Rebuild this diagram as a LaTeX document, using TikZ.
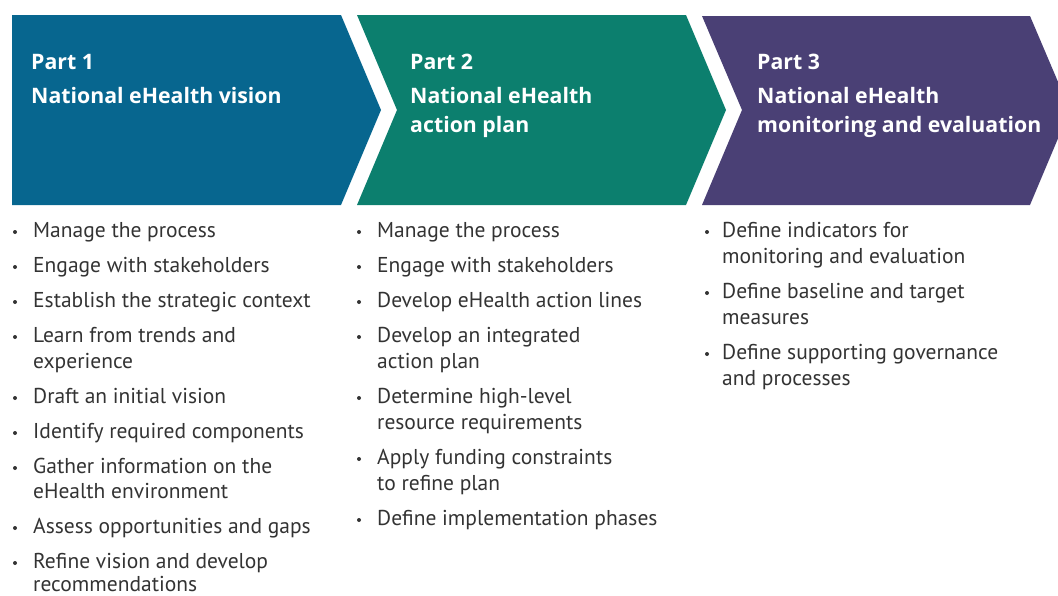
\documentclass[tikz,border=0pt]{standalone}
\usepackage{fontspec}
\setmainfont{PT Sans}
\newfontfamily\ttlfont{Open Sans}
\definecolor{pblue}{HTML}{07668F}
\definecolor{pteal}{HTML}{0C7F6E}
\definecolor{ppurple}{HTML}{4A4075}
\definecolor{txtgrey}{HTML}{333333}
\begin{document}
\begin{tikzpicture}[x=1pt,y=-1pt,
  ttl/.style={anchor=base west, inner sep=0pt, text=white, font=\ttlfont\bfseries\fontsize{21.3}{29}\selectfont},
  itm/.style={anchor=base west, inner sep=0pt, text=txtgrey, font=\fontsize{21.5}{26}\selectfont},
  bul/.style={circle, fill=txtgrey, inner sep=0pt, minimum size=4pt}]
\useasboundingbox (0,0) rectangle (1058,595);
\clip (0,0) rectangle (1058,595);
% chevrons
\fill[pblue] (12,15) -- (341,15) -- (381,110) -- (341,205) -- (12,205) -- cycle;
\fill[pteal] (357,15) -- (686,15) -- (726,110) -- (686,205) -- (357,205) -- (397,110) -- cycle;
\fill[ppurple] (702,16) -- (1030,16) -- (1070,110) -- (1030,205) -- (702,205) -- (742,110) -- cycle;
% titles
\node[ttl] (p1a) at (31,69) {Part 1};
\node[ttl] (p1b) at (31,103) {National eHealth vision};
\node[ttl] (p2a) at (410,69) {Part 2};
\node[ttl] (p2b) at (410,103) {National eHealth};
\node[ttl] (p2c) at (410,132) {action plan};
\node[ttl] (p3a) at (757,69) {Part 3};
\node[ttl] (p3b) at (757,103) {National eHealth};
\node[ttl] (p3c) at (757,132) {monitoring and evaluation};
% column 1
\node[bul] (b11) at (15,232) {}; \node[itm] (t11) at (33,237) {Manage the process};
\node[bul] (b12) at (15,267) {}; \node[itm] (t12) at (33,272) {Engage with stakeholders};
\node[bul] (b13) at (15,302) {}; \node[itm] (t13) at (33,307) {Establish the strategic context};
\node[bul] (b14) at (15,337) {}; \node[itm] (t14) at (33,342) {Learn from trends and};
\node[itm] (t14b) at (33,368) {experience};
\node[bul] (b15) at (15,398) {}; \node[itm] (t15) at (33,403) {Draft an initial vision};
\node[bul] (b16) at (15,433) {}; \node[itm] (t16) at (33,438) {Identify required components};
\node[bul] (b17) at (15,468) {}; \node[itm] (t17) at (33,473) {Gather information on the};
\node[itm] (t17b) at (33,498) {eHealth environment};
\node[bul] (b18) at (15,528) {}; \node[itm] (t18) at (33,533) {Assess opportunities and gaps};
\node[bul] (b19) at (15,563) {}; \node[itm] (t19) at (33,568) {Refine vision and develop};
\node[itm] (t19b) at (33,591) {recommendations};
% column 2
\node[bul] (b21) at (359,232) {}; \node[itm] (t21) at (377,237) {Manage the process};
\node[bul] (b22) at (359,267) {}; \node[itm] (t22) at (377,272) {Engage with stakeholders};
\node[bul] (b23) at (359,302) {}; \node[itm] (t23) at (377,307) {Develop eHealth action lines};
\node[bul] (b24) at (359,337) {}; \node[itm] (t24) at (377,342) {Develop an integrated};
\node[itm] (t24b) at (377,368) {action plan};
\node[bul] (b25) at (359,398) {}; \node[itm] (t25) at (377,403) {Determine high-level};
\node[itm] (t25b) at (377,429) {resource requirements};
\node[bul] (b26) at (359,459) {}; \node[itm] (t26) at (377,464) {Apply funding constraints};
\node[itm] (t26b) at (377,490) {to refine plan};
\node[bul] (b27) at (359,520) {}; \node[itm] (t27) at (377,525) {Define implementation phases};
% column 3
\node[bul] (b31) at (707,232) {}; \node[itm] (t31) at (722,237) {Define indicators for};
\node[itm] (t31b) at (722,263) {monitoring and evaluation};
\node[bul] (b32) at (707,293) {}; \node[itm] (t32) at (722,298) {Define baseline and target};
\node[itm] (t32b) at (722,324) {measures};
\node[bul] (b33) at (707,354) {}; \node[itm] (t33) at (722,359) {Define supporting governance};
\node[itm] (t33b) at (722,385) {and processes};
\end{tikzpicture}
\end{document}
